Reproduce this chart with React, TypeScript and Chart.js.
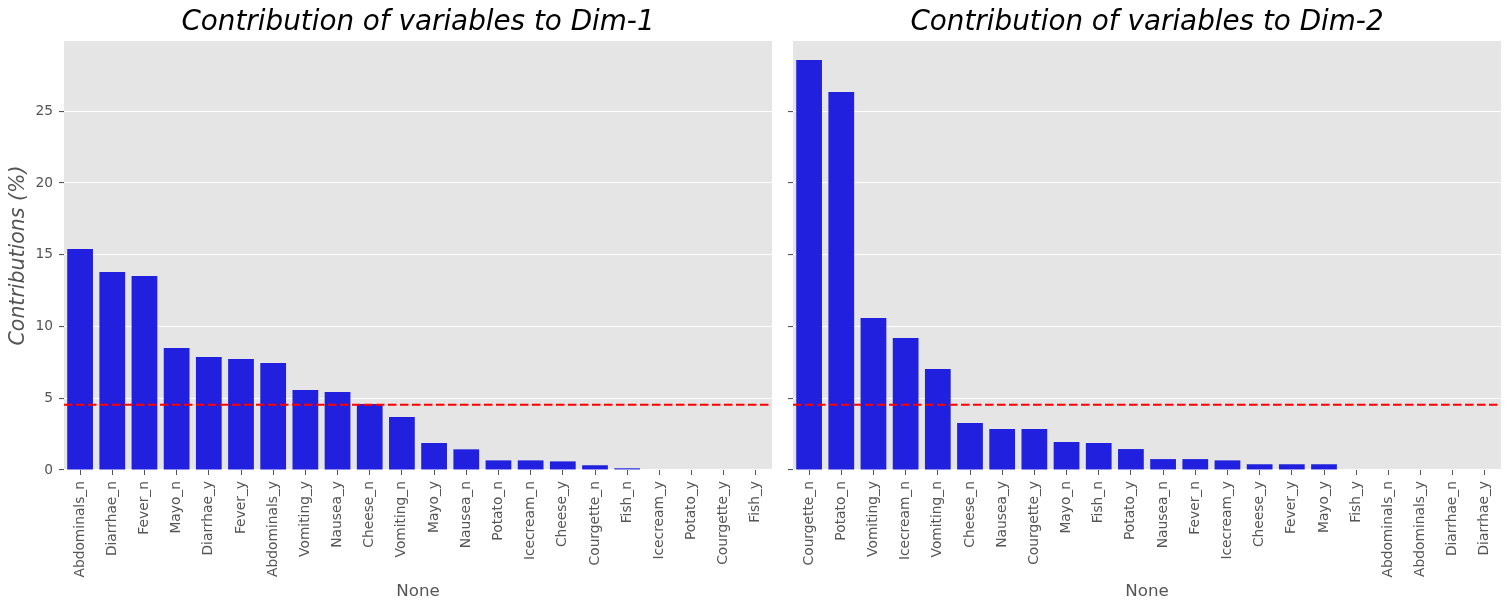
import { useEffect, useRef } from "react"
import { Chart, registerables } from "chart.js"

Chart.register(...registerables)

// Dim-1 contributions, sorted as in the figure
const dim1Labels = [
  "Abdominals_n", "Diarrhae_n", "Fever_n", "Mayo_n", "Diarrhae_y", "Fever_y",
  "Abdominals_y", "Vomiting_y", "Nausea_y", "Cheese_n", "Vomiting_n", "Mayo_y",
  "Nausea_n", "Potato_n", "Icecream_n", "Cheese_y", "Courgette_n", "Fish_n",
  "Icecream_y", "Potato_y", "Courgette_y", "Fish_y",
]
const dim1Values = [
  15.4, 13.8, 13.52, 8.5, 7.88, 7.74, 7.46, 5.58, 5.44, 4.6, 3.69, 1.88,
  1.44, 0.67, 0.67, 0.6, 0.33, 0.12, 0, 0, 0, 0,
]

// Dim-2 contributions
const dim2Labels = [
  "Courgette_n", "Potato_n", "Vomiting_y", "Icecream_n", "Vomiting_n", "Cheese_n",
  "Nausea_y", "Courgette_y", "Mayo_n", "Fish_n", "Potato_y", "Nausea_n",
  "Fever_n", "Icecream_y", "Cheese_y", "Fever_y", "Mayo_y", "Fish_y",
  "Abdominals_n", "Abdominals_y", "Diarrhae_n", "Diarrhae_y",
]
const dim2Values = [
  28.58, 26.35, 10.59, 9.2, 7.04, 3.28, 2.86, 2.86, 1.95, 1.88, 1.46, 0.76,
  0.76, 0.67, 0.4, 0.4, 0.4, 0, 0, 0, 0, 0,
]

const yTicks = [0, 5, 10, 15, 20, 25]
const yMax = 29.9
const threshold = 4.55

const FONT = "'DejaVu Sans', sans-serif"
const GRAY = "#555555"

const panelPlugin = {
  id: "panel",
  beforeDraw(chart: any) {
    const { ctx, chartArea } = chart
    ctx.save()
    ctx.fillStyle = "#E5E5E5"
    ctx.fillRect(chartArea.left, chartArea.top, chartArea.right - chartArea.left, chartArea.bottom - chartArea.top)
    ctx.restore()
  },
  afterDatasetsDraw(chart: any, _args: any, opts: any) {
    const { ctx, chartArea, scales } = chart
    const y = scales.y.getPixelForValue(opts.threshold)
    ctx.save()
    ctx.strokeStyle = "red"
    ctx.lineWidth = 2
    ctx.setLineDash([8.5, 3.5])
    ctx.beginPath()
    ctx.moveTo(chartArea.left, y)
    ctx.lineTo(chartArea.right, y)
    ctx.stroke()
    ctx.restore()
  },
  afterDraw(chart: any, _args: any, opts: any) {
    const { ctx, chartArea } = chart
    ctx.save()
    ctx.font = `italic 27.8px ${FONT}`
    ctx.fillStyle = "#000000"
    ctx.textAlign = "center"
    ctx.textBaseline = "alphabetic"
    ctx.fillText(opts.title, (chartArea.left + chartArea.right) / 2, 29.5)
    ctx.restore()
  },
}

interface PanelProps {
  labels: string[]
  values: number[]
  title: string
  showYLabels: boolean
  yWidth: number
  padRight: number
  width: number
}

function ContributionPanel({ labels, values, title, showYLabels, yWidth, padRight, width }: PanelProps) {
  const chartRef = useRef<HTMLCanvasElement>(null)
  const chartInstance = useRef<Chart | null>(null)

  useEffect(() => {
    if (!chartRef.current) return
    if (chartInstance.current) chartInstance.current.destroy()

    chartInstance.current = new Chart(chartRef.current, {
      type: "bar",
      data: {
        labels,
        datasets: [
          {
            data: values,
            backgroundColor: "rgb(32, 32, 222)",
            borderWidth: 0,
            barPercentage: 0.8,
            categoryPercentage: 1.0,
          },
        ],
      },
      options: {
        animation: false,
        responsive: true,
        maintainAspectRatio: false,
        layout: { padding: { top: 41, right: padRight, left: 0, bottom: 0 } },
        scales: {
          x: {
            offset: true,
            afterFit: (s: any) => {
              s.height = 141
            },
            grid: {
              display: true,
              offset: false,
              drawOnChartArea: false,
              drawTicks: true,
              tickLength: 5,
              tickColor: GRAY,
            },
            border: { display: false },
            ticks: {
              autoSkip: false,
              maxRotation: 90,
              minRotation: 90,
              color: GRAY,
              padding: 6,
              font: { family: FONT, size: 13.8 },
            },
            title: {
              display: true,
              text: "None",
              color: GRAY,
              font: { family: FONT, size: 16.7 },
              padding: { top: 0, bottom: 9 },
            },
          },
          y: {
            min: 0,
            max: yMax,
            afterBuildTicks: (s: any) => {
              s.ticks = yTicks.map((v) => ({ value: v }))
            },
            afterFit: (s: any) => {
              s.width = yWidth
            },
            grid: {
              color: "#ffffff",
              lineWidth: 1.1,
              tickColor: GRAY,
              tickLength: 5,
            },
            border: { display: false },
            ticks: {
              color: GRAY,
              padding: 6,
              font: { family: FONT, size: 13.8 },
              callback: (v: any) => (showYLabels ? String(v) : ""),
            },
            title: {
              display: showYLabels,
              text: "Contributions (%)",
              color: GRAY,
              font: { family: FONT, size: 20.5, style: "italic" },
              padding: { top: 6, bottom: 0 },
            },
          },
        },
        plugins: {
          legend: { display: false },
          tooltip: { enabled: false },
          // @ts-ignore
          panel: { title, threshold },
        },
      },
      plugins: [panelPlugin],
    })

    return () => {
      if (chartInstance.current) {
        chartInstance.current.destroy()
        chartInstance.current = null
      }
    }
  }, [labels, values, title, showYLabels, yWidth, padRight])

  return (
    <div style={{ position: "relative", width, height: 611 }}>
      <canvas ref={chartRef} />
    </div>
  )
}

export default function App() {
  return (
    <div style={{ position: "absolute", left: 0, top: 0, width: 1511, height: 611, background: "#fff", display: "flex" }}>
      <ContributionPanel
        labels={dim1Labels}
        values={dim1Values}
        title="Contribution of variables to Dim-1"
        showYLabels={true}
        yWidth={64}
        padRight={8}
        width={780}
      />
      <ContributionPanel
        labels={dim2Labels}
        values={dim2Values}
        title="Contribution of variables to Dim-2"
        showYLabels={false}
        yWidth={13}
        padRight={10}
        width={731}
      />
    </div>
  )
}
